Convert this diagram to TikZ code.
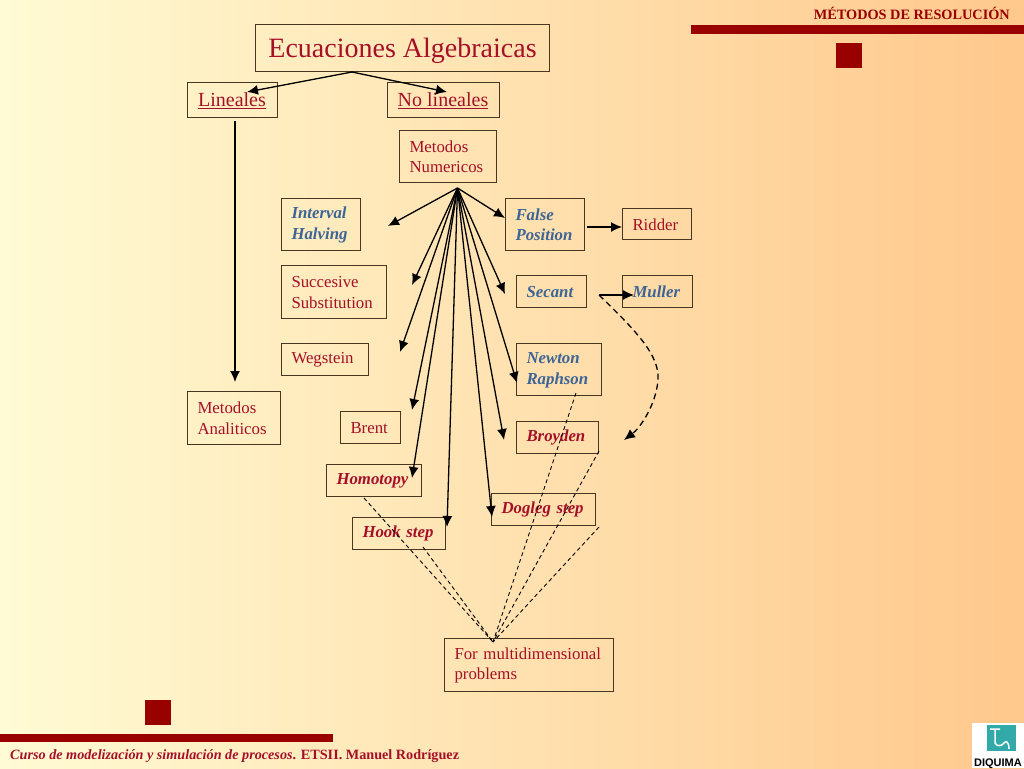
\documentclass[tikz,border=0pt]{standalone}
\usepackage{fontspec}
\setmainfont{Liberation Serif}
\setsansfont{Liberation Sans}
\usetikzlibrary{arrows.meta}
\definecolor{barColor}{RGB}{153,0,0}
\definecolor{textColor}{RGB}{165,16,40}
\definecolor{blueColor}{RGB}{60,100,150}
\definecolor{edgeColor}{RGB}{70,55,30}
\definecolor{logoColor}{RGB}{50,170,170}
\definecolor{bgLeft}{RGB}{255,251,212}
\definecolor{bgMid}{RGB}{254,230,180}
\definecolor{bgRight}{RGB}{255,200,140}
\tikzset{
  box/.style={draw=edgeColor,line width=1pt,inner xsep=10.5pt,inner ysep=0pt,align=left,text=textColor,font=\fontsize{16.8}{20.5}\selectfont,execute at begin node={\rule{0pt}{0.8em}}},
  redbold/.style={box,font=\fontsize{16.8}{20.5}\selectfont\bfseries\itshape},
  bluebold/.style={redbold,text=blueColor},
  arrow/.style={draw=black,line width=1.3pt,-{Latex[length=11pt,width=10pt]}},
  thindash/.style={draw=black,line width=0.9pt,dash pattern=on 4pt off 3pt},
  thickdash/.style={draw=black,line width=1.3pt,dash pattern=on 6pt off 4pt,-{Latex[length=11pt,width=10pt]}}
}
\begin{document}
\begin{tikzpicture}[x=1pt,y=-1pt]
\useasboundingbox (0,0) rectangle (1024,768);
\shade[left color=bgLeft,middle color=bgMid,right color=bgRight] (0,0) rectangle (1024,768);

% bars and squares
\fill[barColor] (691,25) rectangle (1024,34);
\fill[barColor] (836,43) rectangle (862,68);
\fill[barColor] (0,734) rectangle (333,742);
\fill[barColor] (145,700) rectangle (171,725);
\node[anchor=east,inner sep=0pt,text=barColor,font=\fontsize{14.3}{15}\selectfont\bfseries] (header) at (1010,13) {MÉTODOS DE RESOLUCIÓN};
\node[anchor=west,inner sep=0pt,text=textColor,font=\fontsize{14.2}{15}\selectfont\bfseries] (footer) at (10,756.5) {\itshape Curso de modelización y simulación de procesos\upshape. ETSII. Manuel Rodríguez};

% logo
\fill[white] (972,723) rectangle (1024,768);
\fill[logoColor] (987,725) rectangle (1016,751);
\draw[white,line width=1.5pt] (990,729) -- (1000,729) (995,729) -- (995,743) .. controls (997,747) and (1002,746) .. (1004,743) .. controls (1006,740) and (1009,742) .. (1009,749);
\node[anchor=base,inner sep=0pt,font=\fontsize{11}{11}\sffamily\bfseries] (logo) at (998,766) {DIQUIMA};

% nodes
\node[box,minimum width=294pt,minimum height=46pt,font=\fontsize{28}{30}\selectfont,execute at begin node={\rule{0pt}{0.9em}}] (ecuaciones) at (402.5,48) {Ecuaciones Algebraicas};
\node[box,minimum width=90pt,minimum height=35pt,font=\fontsize{20}{22}\selectfont] (lineales) at (232,99.5) {\underline{Lineales}};
\node[box,minimum width=112pt,minimum height=35pt,font=\fontsize{20}{22}\selectfont] (nolineales) at (443,99.5) {\underline{No lineales}};
\node[box,text width=76pt,minimum height=52pt] (numericos) at (447.5,156) {Metodos\\Numericos};
\node[box,text width=72pt,minimum height=53pt] (analiticos) at (233.5,417.5) {Metodos\\Analiticos};
\node[bluebold,text width=58pt,minimum height=52pt] (interval) at (320.5,224) {Interval\\Halving};
\node[box,text width=84pt,minimum height=53pt] (succesive) at (333.5,291.5) {Succesive\\Substitution};
\node[box,text width=66pt,minimum height=32pt] (wegstein) at (324.5,359) {Wegstein};
\node[box,text width=39pt,minimum height=32pt] (brent) at (370,427) {Brent};
\node[redbold,text width=74pt,minimum height=32pt] (homotopy) at (373.5,480) {Homotopy};
\node[redbold,text width=72pt,minimum height=32pt] (hookstep) at (398.5,533) {Hook step};
\node[bluebold,text width=58pt,minimum height=52pt] (falsepos) at (544.5,224) {False\\Position};
\node[box,text width=48pt,minimum height=31pt] (ridder) at (656.5,223.5) {Ridder};
\node[bluebold,text width=49pt,minimum height=32pt] (secant) at (551,291) {Secant};
\node[bluebold,text width=49pt,minimum height=32pt] (muller) at (657,291) {Muller};
\node[bluebold,text width=64pt,minimum height=52pt] (newton) at (558.5,369) {Newton\\Raphson};
\node[redbold,text width=61pt,minimum height=32pt] (broyden) at (557,437) {Broyden};
\node[redbold,text width=83pt,minimum height=32pt] (dogleg) at (543,509) {Dogleg step};
\node[box,text width=148pt,minimum height=53pt] (multidim) at (528.5,664.5) {For multidimensional\\problems};

% free ends
\coordinate (topHub) at (352,72);
\coordinate (numHub) at (457.5,188);
\coordinate (dashHub) at (493,642);
\coordinate (linStart) at (235,121);
\coordinate (linEnd) at (235,382);
\coordinate (toLineales) at (247,92);
\coordinate (toNoLineales) at (447,92);
\coordinate (toInterval) at (388,226);
\coordinate (toFalse) at (505,218);
\coordinate (toSuccesive) at (412,285);
\coordinate (toWegstein) at (400,352);
\coordinate (toBrent) at (412,410);
\coordinate (toHomotopy) at (412,478);
\coordinate (toHook) at (447,527);
\coordinate (toDogleg) at (492,517);
\coordinate (toBroyden) at (504,440);
\coordinate (toNewton) at (517,383);
\coordinate (toSecant) at (505,294);
\coordinate (ridderStart) at (587,227);
\coordinate (ridderEnd) at (622,227);
\coordinate (mullerStart) at (599,295);
\coordinate (mullerEnd) at (634,295);
\coordinate (curveEnd) at (624,440);
\coordinate (fromHomotopy) at (364,498);
\coordinate (fromHook) at (423,547);
\coordinate (fromNewton) at (576,393);
\coordinate (fromBroyden) at (599,451);
\coordinate (fromDogleg) at (599,527);

% connectors
\draw[arrow] (topHub) -- (toLineales);
\draw[arrow] (topHub) -- (toNoLineales);
\draw[arrow] (linStart) -- (linEnd);
\draw[arrow] (numHub) -- (toInterval);
\draw[arrow] (numHub) -- (toFalse);
\draw[arrow] (numHub) -- (toSuccesive);
\draw[arrow] (numHub) -- (toWegstein);
\draw[arrow] (numHub) -- (toBrent);
\draw[arrow] (numHub) -- (toHomotopy);
\draw[arrow] (numHub) -- (toHook);
\draw[arrow] (numHub) -- (toDogleg);
\draw[arrow] (numHub) -- (toBroyden);
\draw[arrow] (numHub) -- (toNewton);
\draw[arrow] (numHub) -- (toSecant);
\draw[arrow] (ridderStart) -- (ridderEnd);
\draw[arrow] (mullerStart) -- (mullerEnd);
\draw[thickdash] (mullerStart) .. controls (635,330) and (660,355) .. (658,380) .. controls (656,405) and (640,428) .. (curveEnd);
\draw[thindash] (fromHomotopy) -- (dashHub);
\draw[thindash] (fromHook) -- (dashHub);
\draw[thindash] (fromNewton) -- (dashHub);
\draw[thindash] (fromBroyden) -- (dashHub);
\draw[thindash] (fromDogleg) -- (dashHub);
\end{tikzpicture}
\end{document}
